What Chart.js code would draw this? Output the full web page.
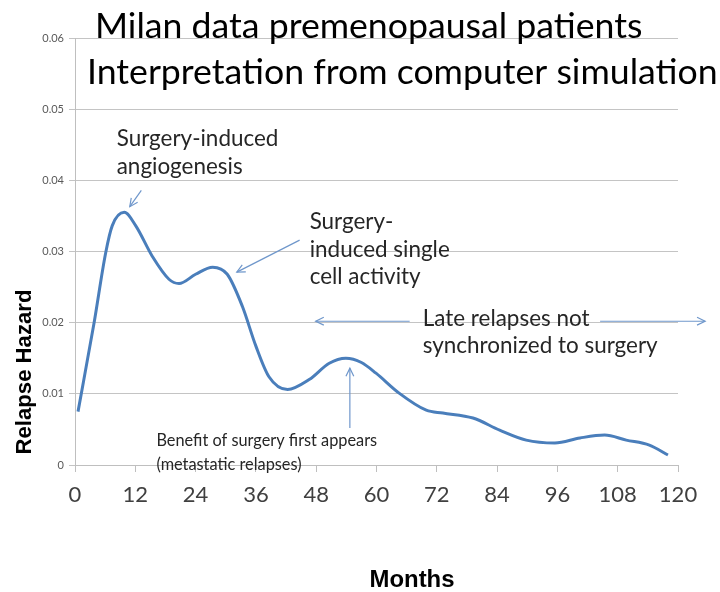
<!DOCTYPE html>
<html>
<head>
<meta charset="utf-8">
<script src="https://cdn.jsdelivr.net/npm/chart.js@4/dist/chart.umd.min.js"></script>
<style>
html,body{margin:0;padding:0;background:#fff;}
#wrap{width:720px;height:592px;position:relative;}
</style>
</head>
<body>
<div id="wrap"><canvas id="c" width="720" height="592"></canvas></div>
<script>
// ---- data ----
const months = [0.6, 3.8, 6.1, 7.4, 9.8, 12.1, 15.4, 18.7, 20.7, 24, 27.4, 30.3, 33.3, 36, 38.6, 42.3, 46.6, 50.6, 53.9, 57, 59.9, 64.5, 69.9, 73.2, 79.2, 84.5, 89.8, 95.5, 100.5, 105.4, 109.7, 114.3, 118];
const hazard = [0.0075, 0.0200, 0.0298, 0.0336, 0.0355, 0.0336, 0.0293, 0.0261, 0.0255, 0.0268, 0.0278, 0.0268, 0.0223, 0.0167, 0.0124, 0.0106, 0.0120, 0.0143, 0.0150, 0.0144, 0.0129, 0.0101, 0.0077, 0.0073, 0.0066, 0.0049, 0.0035, 0.0031, 0.0038, 0.0042, 0.0035, 0.0028, 0.0014];
const xTicks = [0, 12, 24, 36, 48, 60, 72, 84, 96, 108, 120];
const yTicks = [0, 0.01, 0.02, 0.03, 0.04, 0.05, 0.06];
const yTickLabels = ["0", "0.01", "0.02", "0.03", "0.04", "0.05", "0.06"];
const titleLines = ["Milan data premenopausal patients", "Interpretation from computer simulation"];
const xTitle = "Months";
const yTitle = "Relapse Hazard";

const points = months.map((m, i) => ({x: m, y: hazard[i]}));
const FONT = "Lato, 'Open Sans', sans-serif";

function fitSize(ctx, text, targetW, weight, family) {
  ctx.font = weight + " 100px " + family;
  const w = ctx.measureText(text).width;
  return 100 * targetW / w;
}
function arrowHead(ctx, x1, y1, x2, y2, len) {
  const a = Math.atan2(y2 - y1, x2 - x1);
  ctx.beginPath();
  ctx.moveTo(x2 - len * Math.cos(a - 0.45), y2 - len * Math.sin(a - 0.45));
  ctx.lineTo(x2, y2);
  ctx.lineTo(x2 - len * Math.cos(a + 0.45), y2 - len * Math.sin(a + 0.45));
  ctx.stroke();
}
function arrow(ctx, x1, y1, x2, y2, head) {
  ctx.beginPath(); ctx.moveTo(x1, y1); ctx.lineTo(x2, y2); ctx.stroke();
  if (head) arrowHead(ctx, x1, y1, x2, y2, 9);
}

const annot = {
  id: 'annot',
  afterDraw(chart) {
    const ctx = chart.ctx;
    const xs = chart.scales.x, ys = chart.scales.y;
    const X = v => xs.getPixelForValue(v), Y = v => ys.getPixelForValue(v);
    ctx.save();
    // titles
    ctx.fillStyle = '#000';
    ctx.textBaseline = 'alphabetic';
    ctx.textAlign = 'left';
    let s = fitSize(ctx, titleLines[1], 631, '400', FONT);
    ctx.font = '400 ' + s + 'px ' + FONT;
    ctx.fillText(titleLines[0], 95, 38);
    ctx.fillText(titleLines[1], 87, 84);

    // axis titles
    ctx.fillStyle = '#000';
    s = fitSize(ctx, xTitle, 85, 'bold', "'Liberation Sans', Arial, sans-serif");
    ctx.font = 'bold ' + s + 'px "Liberation Sans", Arial, sans-serif';
    ctx.textAlign = 'center';
    ctx.fillText(xTitle, 412, 587);
    s = fitSize(ctx, yTitle, 165, 'bold', "'Liberation Sans', Arial, sans-serif");
    ctx.font = 'bold ' + s + 'px "Liberation Sans", Arial, sans-serif';
    ctx.save();
    ctx.translate(31, 372);
    ctx.rotate(-Math.PI / 2);
    ctx.fillText(yTitle, 0, 0);
    ctx.restore();

    // annotation texts
    ctx.fillStyle = '#262626';
    ctx.textAlign = 'left';
    s = fitSize(ctx, "synchronized to surgery", 235, '400', FONT);
    ctx.font = '400 ' + s + 'px ' + FONT;
    ctx.fillText("Surgery-induced", X(8.3), Y(0.0448));
    ctx.fillText("angiogenesis", X(8.3), Y(0.0409));
    ctx.fillText("Surgery-", X(46.7), Y(0.0331));
    ctx.fillText("induced single", X(46.7), Y(0.0292));
    ctx.fillText("cell activity", X(46.7), Y(0.0254));
    ctx.fillText("Late relapses not", X(69.2), Y(0.0196));
    ctx.fillText("synchronized to surgery", X(69.2), Y(0.0157));
    s = fitSize(ctx, "Benefit of surgery first appears", 221, '400', FONT);
    ctx.font = '400 ' + s + 'px ' + FONT;
    ctx.fillText("Benefit of surgery first appears", X(16.2), Y(0.0027));
    ctx.fillText("(metastatic relapses)", X(16.2), Y(-0.0007));

    // arrows
    ctx.strokeStyle = '#6f97cb';
    ctx.lineWidth = 1.2;
    arrow(ctx, X(13.2), Y(0.0386), X(10.9), Y(0.0363), true);
    arrow(ctx, X(44.7), Y(0.0316), X(32.2), Y(0.0271), true);
    arrow(ctx, X(66.6), Y(0.0202), X(47.9), Y(0.0202), true);
    arrow(ctx, X(104.5), Y(0.0202), X(125.4), Y(0.0202), true);
    arrow(ctx, X(54.7), Y(0.0052), X(54.7), Y(0.0136), true);
    ctx.restore();
  }
};

new Chart(document.getElementById('c'), {
  type: 'scatter',
  data: {
    datasets: [{
      data: points,
      showLine: true,
      borderColor: '#4a7ebb',
      borderWidth: 3,
      pointRadius: 0,
      cubicInterpolationMode: 'monotone',
      fill: false
    }]
  },
  options: {
    responsive: false,
    animation: false,
    devicePixelRatio: 1,
    layout: {padding: {left: 0, right: 42, top: 38, bottom: 0}},
    plugins: {legend: {display: false}, tooltip: {enabled: false}, title: {display: false}},
    scales: {
      x: {
        type: 'linear', min: 0, max: 120,
        afterBuildTicks: sc => { sc.ticks = xTicks.map(v => ({value: v})); },
        afterFit: sc => { sc.height = 127; },
        ticks: {color: '#404040', font: {family: FONT, size: 22}, padding: 10, maxRotation: 0, autoSkip: false},
        grid: {drawOnChartArea: false, drawTicks: true, tickLength: 7, color: '#bfbfbf'},
        border: {color: '#bfbfbf', width: 1}
      },
      y: {
        type: 'linear', min: 0, max: 0.06,
        afterBuildTicks: sc => { sc.ticks = yTicks.map(v => ({value: v})); },
        afterFit: sc => { sc.width = 75; },
        ticks: {color: '#595959', font: {family: FONT, size: 11}, padding: 5,
          callback: (v) => { const i = yTicks.findIndex(t => Math.abs(t - v) < 1e-9); return i >= 0 ? yTickLabels[i] : ''; }},
        grid: {color: '#c4c4c4', lineWidth: 1, tickLength: 6},
        border: {color: '#bfbfbf', width: 1}
      }
    }
  },
  plugins: [annot]
});
</script>
</body>
</html>
